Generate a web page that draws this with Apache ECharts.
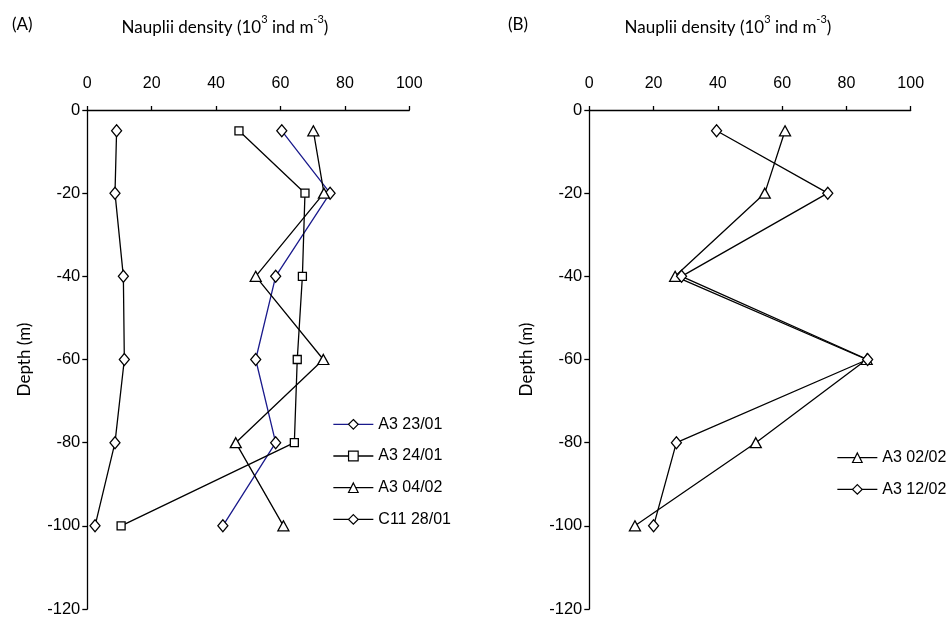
<!DOCTYPE html>
<html>
<head>
<meta charset="utf-8">
<script src="https://cdn.jsdelivr.net/npm/echarts@6/dist/echarts.min.js"></script>
<style>html,body{margin:0;padding:0;background:#fff}#c{width:952px;height:619px}</style>
</head>
<body>
<div id="c"></div>
<script>
// Depths (m)
const depths = [-5, -20, -40, -60, -80, -100];
// Panel A: nauplii density (10^3 ind m^-3)
const a3_2301 = [60.4, 75.4, 58.5, 52.3, 58.5, 42.1];
const a3_2401 = [47.1, 67.6, 66.8, 65.2, 64.3, 10.5];
const a3_0402 = [70.2, 73.5, 52.3, 73.3, 46.1, 60.9];
const c11_2801 = [9.1, 8.6, 11.2, 11.5, 8.6, 2.4];
// Panel B
const a3_0202 = [60.9, 54.6, 26.7, 86.3, 51.8, 14.2];
const a3_1202 = [39.6, 74.2, 28.7, 86.6, 27.1, 20.0];
// Axis ticks
const xTicks = [0, 20, 40, 60, 80, 100];
const yTicks = [0, -20, -40, -60, -80, -100, -120];

const pairs = vals => vals.map((v, i) => [v, depths[i]]);
const tickFont = 'Liberation Sans';
const labFont = 'Lato';

function mkX(idx) {
  return {
    gridIndex: idx, type: 'value', position: 'top', min: xTicks[0], max: xTicks[xTicks.length-1], interval: 20,
    axisLine: {show: true, onZero: false, lineStyle: {color: '#000', width: 1.3}},
    axisTick: {show: true, length: 4, lineStyle: {color: '#000', width: 1.3}},
    axisLabel: {fontFamily: tickFont, fontSize: 16, color: '#000', margin: 18},
    splitLine: {show: false}
  };
}
function mkY(idx) {
  return {
    gridIndex: idx, type: 'value', min: yTicks[yTicks.length-1], max: yTicks[0], interval: 20,
    name: 'Depth (m)', nameLocation: 'middle', nameRotate: 90, nameGap: 54,
    nameTextStyle: {fontFamily: labFont, fontSize: 17, color: '#000'},
    axisLine: {show: true, onZero: false, lineStyle: {color: '#000', width: 1.3}},
    axisTick: {show: true, length: 5, lineStyle: {color: '#000', width: 1.3}},
    axisLabel: {fontFamily: tickFont, fontSize: 16.5, color: '#000', margin: 7},
    splitLine: {show: false}
  };
}
function mkS(name, vals, idx, symbol, color) {
  let size = symbol === 'diamond' ? [10, 12] : symbol === 'triangle' ? [11, 10] : [8, 8];
  return {
    name: name, type: 'line', xAxisIndex: idx, yAxisIndex: idx, data: pairs(vals),
    symbol: symbol, symbolSize: size, showSymbol: true,
    lineStyle: {color: color, width: 1.3},
    itemStyle: {color: '#fff', borderColor: '#000', borderWidth: 1.3},
    emphasis: {disabled: true}, animation: false
  };
}
const legendCommon = {
  orient: 'vertical', itemWidth: 40, itemHeight: 12, itemGap: 15.7, padding: 0,
  itemStyle: {borderWidth: 1.2},
  lineStyle: {width: 1.3},
  textStyle: {fontFamily: tickFont, fontSize: 16, color: '#000', lineHeight: 16}
};

const chart = echarts.init(document.getElementById('c'), null, {renderer: 'canvas'});
chart.setOption({
  backgroundColor: '#fff',
  animation: false,
  grid: [
    {left: 87.3, top: 110, width: 322, height: 499},
    {left: 589.3, top: 110, width: 321.4, height: 499}
  ],
  xAxis: [mkX(0), mkX(1)],
  yAxis: [mkY(0), mkY(1)],
  legend: [
    Object.assign({data: ['A3 23/01', 'A3 24/01', 'A3 04/02', 'C11 28/01'], left: 332.7, top: 416.3}, legendCommon),
    Object.assign({data: ['A3 02/02', 'A3 12/02'], left: 836.7, top: 449.7}, legendCommon)
  ],
  series: [
    mkS('A3 23/01', a3_2301, 0, 'diamond', '#1a1a8c'),
    mkS('A3 24/01', a3_2401, 0, 'rect', '#000'),
    mkS('A3 04/02', a3_0402, 0, 'triangle', '#000'),
    mkS('C11 28/01', c11_2801, 0, 'diamond', '#000'),
    mkS('A3 02/02', a3_0202, 1, 'triangle', '#000'),
    mkS('A3 12/02', a3_1202, 1, 'diamond', '#000')
  ],
  graphic: [
    {type: 'text', left: 12, top: 16, style: {text: '(A)', font: '17px Lato', fill: '#000'}},
    {type: 'text', left: 508, top: 16, style: {text: '(B)', font: '17px Lato', fill: '#000'}},
    {type: 'text', x: 225, y: 25, style: {
      text: '{m|Nauplii density (10}{s|3}{m| ind m}{s|-3}{m|)}', align: 'center', verticalAlign: 'middle',
      rich: {m: {fontFamily: labFont, fontSize: 17, color: '#000', lineHeight: 22, verticalAlign: 'bottom'},
             s: {fontFamily: labFont, fontSize: 11, color: '#000', lineHeight: 22, verticalAlign: 'top'}}}},
    {type: 'text', x: 728, y: 25, style: {
      text: '{m|Nauplii density (10}{s|3}{m| ind m}{s|-3}{m|)}', align: 'center', verticalAlign: 'middle',
      rich: {m: {fontFamily: labFont, fontSize: 17, color: '#000', lineHeight: 22, verticalAlign: 'bottom'},
             s: {fontFamily: labFont, fontSize: 11, color: '#000', lineHeight: 22, verticalAlign: 'top'}}}}
  ]
});
</script>
</body>
</html>
